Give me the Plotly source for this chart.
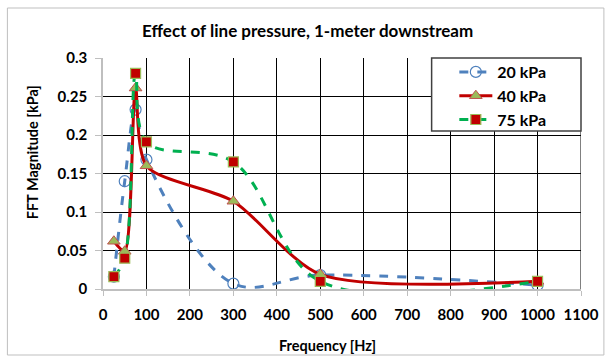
import plotly.graph_objects as go

freq = [25, 50, 75, 100, 300, 500, 1000]
p20 = [0.016, 0.140, 0.233, 0.168, 0.007, 0.018, 0.005]
p40 = [0.062, 0.049, 0.261, 0.160, 0.114, 0.019, 0.010]
p75 = [0.016, 0.040, 0.280, 0.191, 0.165, 0.010, 0.010]
names = ["20 kPa", "40 kPa", "75 kPa"]
x_ticks = list(range(0, 1101, 100))
y_ticks = [0, 0.05, 0.1, 0.15, 0.2, 0.25, 0.3]
y_tick_text = ["0", "0.05", "0.1", "0.15", "0.2", "0.25", "0.3"]
title_text = "Effect of line pressure, 1-meter downstream"
x_title = "Frequency [Hz]"
y_title = "FFT Magnitude [kPa]"

FONT = "Lato, 'Open Sans', sans-serif"
fig = go.Figure()
fig.add_trace(go.Scatter(
    x=freq, y=p20, name=names[0], mode="lines+markers",
    line=dict(color="#4F81BD", width=3, dash="dash", shape="spline", smoothing=1),
    marker=dict(symbol="circle", size=11, color="rgba(255,255,255,0)",
                line=dict(color="#4F81BD", width=1.2)),
))
fig.add_trace(go.Scatter(
    x=freq, y=p40, name=names[1], mode="lines+markers",
    line=dict(color="#C00000", width=3, shape="spline", smoothing=0.75),
    marker=dict(symbol="triangle-up", size=11, color="#9BBB59",
                line=dict(color="#C0504D", width=1)),
))
fig.add_trace(go.Scatter(
    x=freq, y=p75, name=names[2], mode="lines+markers",
    line=dict(color="#00B050", width=3, dash="dash", shape="spline", smoothing=1),
    marker=dict(symbol="square", size=10, color="#C00000",
                line=dict(color="#9BBB59", width=1.2)),
))

fig.update_layout(
    width=611, height=360,
    margin=dict(l=103, r=28, t=58, b=71),
    paper_bgcolor="white", plot_bgcolor="white",
    font=dict(family=FONT, size=15, color="#000", weight="bold"),
    showlegend=True,
    legend=dict(x=0.735, xanchor="left", y=(289 - 55) / 231, yanchor="top",
                bgcolor="rgba(0,0,0,0)", borderwidth=0,
                font=dict(size=16, weight="bold", family=FONT),
                tracegroupgap=0, itemwidth=33),
    xaxis=dict(range=[0, 1100], tickvals=x_ticks, showgrid=True,
               gridcolor="#000", gridwidth=1, zeroline=False,
               showline=True, linecolor="#BFBFBF", linewidth=2,
               ticks="outside", ticklen=5, tickcolor="#BFBFBF",
               ticklabelstandoff=6,
               tickfont=dict(size=15, weight="bold", family=FONT)),
    yaxis=dict(range=[0, 0.3], tickvals=y_ticks, ticktext=y_tick_text,
               showgrid=True, gridcolor="#000", gridwidth=1, zeroline=False,
               showline=True, linecolor="#BFBFBF", linewidth=1.5,
               ticks="outside", ticklen=6, tickcolor="#BFBFBF",
               ticklabelstandoff=5,
               tickfont=dict(size=15, weight="bold", family=FONT)),
    annotations=[
        dict(text=title_text, xref="paper", yref="paper",
             x=(308 - 103) / 480, y=(289 - 30) / 231, xanchor="center", yanchor="middle",
             showarrow=False, font=dict(size=17, weight="bold", family=FONT)),
        dict(text=x_title, xref="paper", yref="paper",
             x=(328 - 103) / 480, y=(289 - 345) / 231, xanchor="center", yanchor="middle",
             showarrow=False, font=dict(size=14.5, weight="bold", family=FONT)),
        dict(text=y_title, xref="paper", yref="paper", textangle=-90,
             x=(32 - 103) / 480, y=(289 - 152) / 231, xanchor="center", yanchor="middle",
             showarrow=False, font=dict(size=14.5, weight="bold", family=FONT)),
    ],
)
# right border line at 1100
fig.add_shape(type="line", xref="x", yref="paper", x0=1100, x1=1100, y0=0, y1=1,
              line=dict(color="#000", width=1), layer="below")
# legend frame
fig.add_shape(type="rect", xref="paper", yref="paper",
              x0=(433 - 103) / 480, x1=1.0, y0=(289 - 131) / 231, y1=1.0,
              fillcolor="white", line=dict(color="#404040", width=1.5), layer="above")
# outer chart frame
fig.add_shape(type="rect", xref="paper", yref="paper",
              x0=(7 - 103) / 480, x1=(606 - 103) / 480,
              y0=(289 - 355) / 231, y1=(289 - 8) / 231,
              line=dict(color="#BFBFBF", width=1))

fig.write_html("out.html")
